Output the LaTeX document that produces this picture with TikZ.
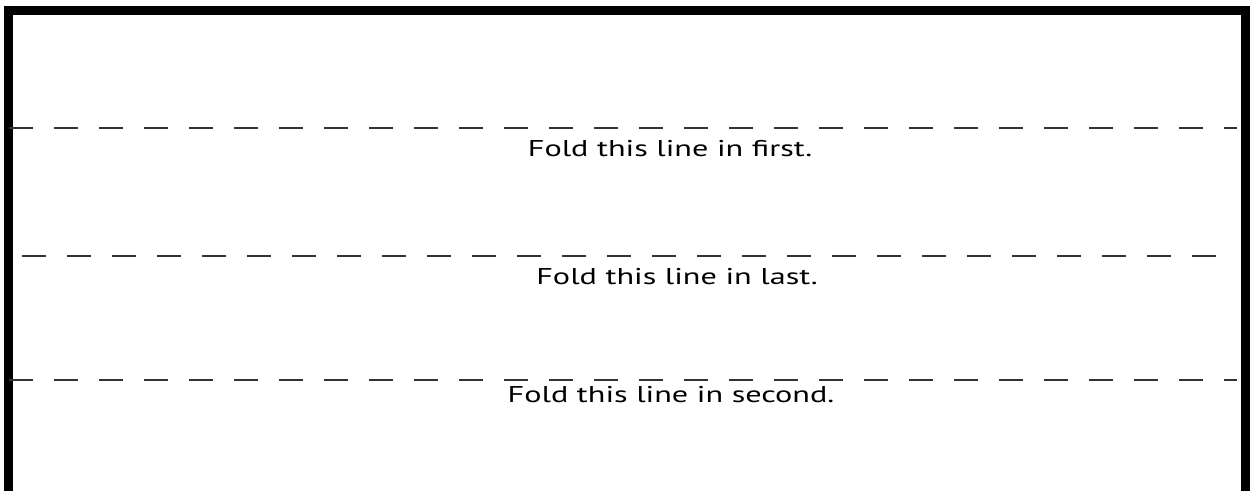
\documentclass[tikz,border=0pt]{standalone}
\usepackage{fontspec}
\setmainfont{PT Sans}
\tikzset{
  foldline/.style={black!80, line width=1.1pt, dash pattern=on 0.48cm off 0.42cm},
  foldtext/.style={anchor=base, inner sep=0pt, xscale=1.41, font=\fontsize{13}{15}\selectfont}
}
\begin{document}
\begin{tikzpicture}[scale=1]
		\useasboundingbox (0,0) rectangle (25,9.82);
		% sheet edge, open at the bottom
		\draw[line width=0.18cm, line join=miter] (0.18,0) -- (0.18,9.60) -- (24.91,9.60) -- (24.91,0);
		% fold lines
		\coordinate (f1l) at (0.18,7.26);
		\coordinate (f1r) at (24.74,7.26);
		\coordinate (f2l) at (0.44,4.70);
		\coordinate (f2r) at (24.42,4.70);
		\coordinate (f3l) at (0.18,2.22);
		\coordinate (f3r) at (24.74,2.22);
		\draw[foldline] (f1l) -- (f1r);
		\draw[foldline] (f2l) -- (f2r);
		\draw[foldline] (f3l) -- (f3r);
		\node[foldtext] (first) at (13.40,6.68) {Fold this line in first.};
		\node[foldtext] (last) at (13.54,4.12) {Fold this line in last.};
		\node[foldtext] (second) at (13.42,1.77) {Fold this line in second.};
		\end{tikzpicture}
\end{document}
